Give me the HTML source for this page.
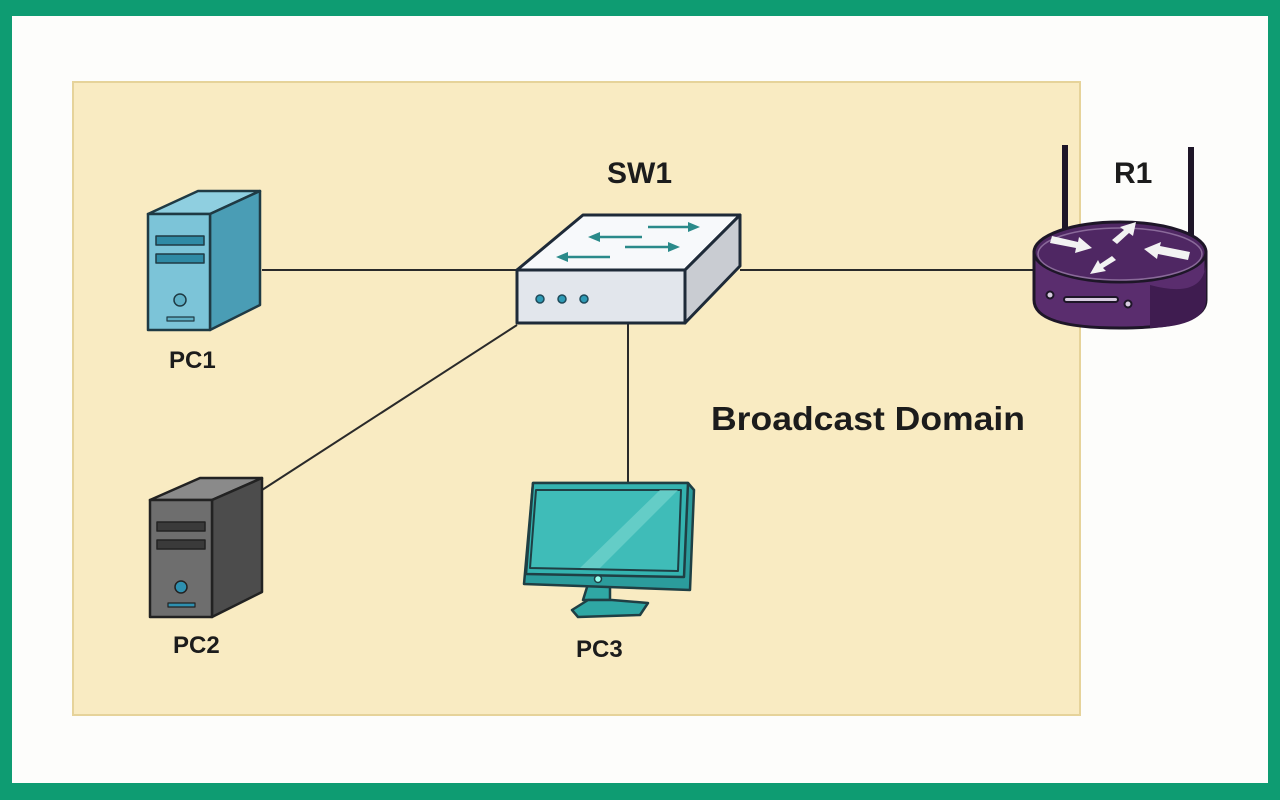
<!DOCTYPE html>
<html><head><meta charset="utf-8"><style>
html,body{margin:0;padding:0;width:1280px;height:800px;overflow:hidden;background:#0e9c72}
svg{display:block}
text{font-family:"Liberation Sans",sans-serif;font-weight:bold;fill:#1c1c1c}
</style></head><body>
<svg width="1280" height="800" viewBox="0 0 1280 800">
<rect x="0" y="0" width="1280" height="800" fill="#0e9c72"/>
<rect x="12" y="16" width="1256" height="767" fill="#fdfdfb"/>
<rect x="73" y="82" width="1007" height="633" fill="#f9ebc2" stroke="#e6d39a" stroke-width="2"/>
<g stroke="#2a2a2a" stroke-width="2" fill="none">
<line x1="262" y1="270" x2="517" y2="270"/>
<line x1="740" y1="270" x2="1036" y2="270"/>
<line x1="262" y1="490" x2="517" y2="325"/>
<line x1="628" y1="323" x2="628" y2="483"/>
</g>
<g stroke="#1f3a44" stroke-width="2.5" stroke-linejoin="round">
<polygon points="148,214 210,214 260,191 198,191" fill="#8fcfe0"/>
<polygon points="210,214 260,191 260,305 210,330" fill="#4a9db5"/>
<rect x="148" y="214" width="62" height="116" fill="#7cc4d8"/>
<rect x="156" y="236" width="48" height="9" fill="#2e8aa5" stroke-width="1.5"/>
<rect x="156" y="254" width="48" height="9" fill="#2e8aa5" stroke-width="1.5"/>
<circle cx="180" cy="300" r="6" fill="#5fb0c6" stroke-width="1.5"/>
<rect x="167" y="317" width="27" height="4" fill="#5fb0c6" stroke-width="1.2"/>
</g>
<text x="169" y="368" font-size="24">PC1</text>
<g stroke="#222" stroke-width="2.5" stroke-linejoin="round">
<polygon points="150,500 212,500 262,478 200,478" fill="#8a8a8a"/>
<polygon points="212,500 262,478 262,592 212,617" fill="#4c4c4c"/>
<rect x="150" y="500" width="62" height="117" fill="#6e6e6e"/>
<rect x="157" y="522" width="48" height="9" fill="#3a3a3a" stroke-width="1.5"/>
<rect x="157" y="540" width="48" height="9" fill="#3a3a3a" stroke-width="1.5"/>
<circle cx="181" cy="587" r="6" fill="#2e90b0" stroke-width="1.5"/>
<rect x="168" y="603" width="27" height="4" fill="#2e90b0" stroke-width="1.2"/>
</g>
<text x="173" y="653" font-size="24">PC2</text>
<g stroke="#1e2a38" stroke-width="3" stroke-linejoin="round">
<polygon points="517,270 685,270 740,215 583,215" fill="#f7f9fb"/>
<polygon points="685,270 740,215 740,266 685,323" fill="#c9ccd2"/>
<rect x="517" y="270" width="168" height="53" fill="#e2e6ec"/>
</g>
<g stroke="#2a8a8a" stroke-width="2.5" fill="#2a8a8a">
<line x1="648" y1="227" x2="690" y2="227"/><polygon points="700,227 688,222 688,232" stroke="none"/>
<line x1="598" y1="237" x2="642" y2="237"/><polygon points="588,237 600,232 600,242" stroke="none"/>
<line x1="625" y1="247" x2="670" y2="247"/><polygon points="680,247 668,242 668,252" stroke="none"/>
<line x1="568" y1="257" x2="610" y2="257"/><polygon points="556,257 568,252 568,262" stroke="none"/>
</g>
<g fill="#2e9ab5" stroke="#1e4a5a" stroke-width="1.5">
<circle cx="540" cy="299" r="4"/><circle cx="562" cy="299" r="4"/><circle cx="584" cy="299" r="4"/>
</g>
<text x="607" y="183" font-size="30">SW1</text>
<g stroke="#1e1628" stroke-width="3">
<line x1="1065" y1="145" x2="1065" y2="250" stroke-width="6"/>
<line x1="1191" y1="147" x2="1191" y2="250" stroke-width="6"/>
<path d="M1034,252 L1034,300 Q1034,328 1120,328 Q1206,328 1206,300 L1206,252 Z" fill="#5a2d6e"/>
<ellipse cx="1120" cy="252" rx="86" ry="30" fill="#4f2763"/>
</g>
<ellipse cx="1120" cy="254" rx="82" ry="26" fill="none" stroke="#8a6a9a" stroke-width="1.5"/>
<path d="M1150,285 Q1206,300 1206,260 L1206,300 Q1206,326 1150,328 Z" fill="#3f1c50"/>
<g fill="#f2f2f2">
<polygon points="1052,236 1078,242 1079,237 1092,248 1075,253 1076,248 1050,243"/>
<polygon points="1112,240 1124,230 1120,227 1136,222 1133,236 1129,233 1117,244"/>
<polygon points="1190,252 1160,246 1161,242 1144,249 1157,259 1158,254 1188,260"/>
<polygon points="1112,256 1100,264 1098,260 1090,274 1106,271 1103,268 1116,260"/>
</g>
<g stroke="#1e1628" stroke-width="2" fill="#d8cce0">
<circle cx="1050" cy="295" r="3.5"/><circle cx="1128" cy="304" r="3.5"/>
<rect x="1064" y="297" width="54" height="5" rx="2.5"/>
</g>
<text x="1114" y="183" font-size="30">R1</text>
<g stroke="#1f3f44" stroke-width="2.5" stroke-linejoin="round">
<polygon points="583,600 610,600 610,584 588,584" fill="#2fa7a4"/>
<polygon points="572,610 588,600 612,600 648,603 640,615 578,617" fill="#2fa7a4"/>
<polygon points="533,483 688,483 694,490 690,590 524,584" fill="#2b9c9c"/>
<polygon points="533,483 688,483 684,577 526,574" fill="#34b3b0"/>
<polygon points="536,490 681,490 678,571 530,568" fill="#3fbcb8" stroke-width="2"/>
</g>
<polygon points="580,568 660,490 678,490 600,568" fill="#7dd8d0" opacity="0.6"/>
<circle cx="598" cy="579" r="3.5" fill="#9fe" stroke="#1f3f44" stroke-width="1.5"/>
<text x="576" y="657" font-size="24">PC3</text>
<text x="711" y="430" font-size="33" textLength="314" lengthAdjust="spacingAndGlyphs">Broadcast Domain</text>
</svg>
</body></html>
